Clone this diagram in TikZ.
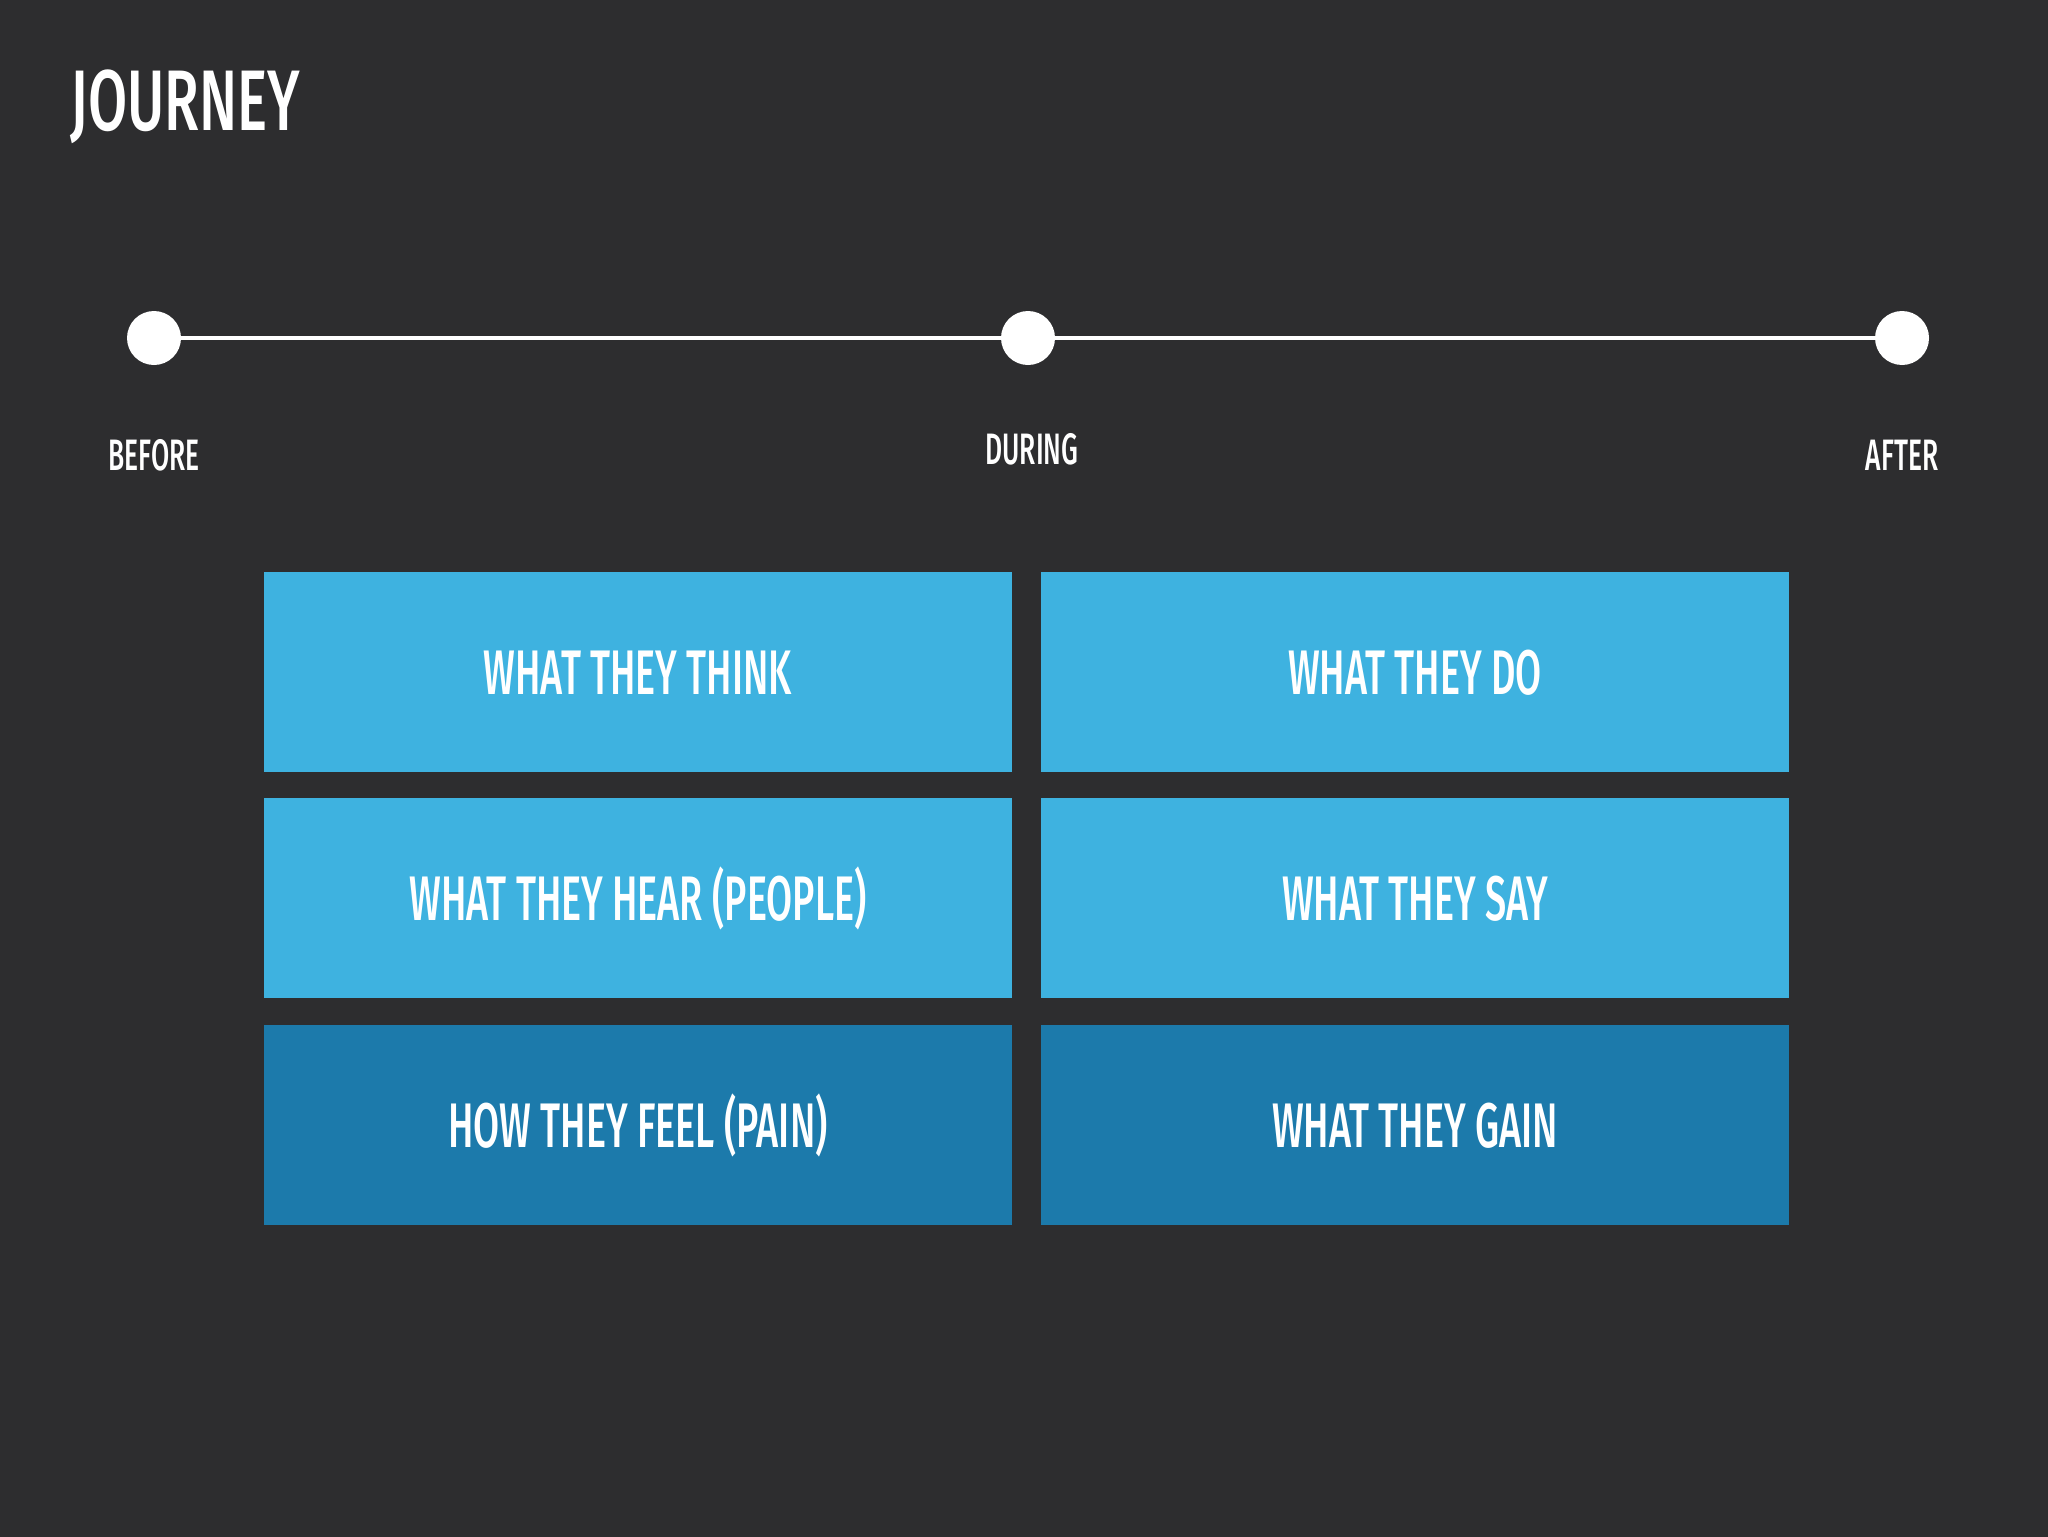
\documentclass[tikz,border=0pt]{standalone}
\usepackage{fontspec}
\setmainfont{Fira Sans}[FakeStretch=0.6, BoldFont={Fira Sans Medium}]
\newfontfamily\titlefont{Fira Sans Medium}[FakeStretch=0.66]
\definecolor{bgc}{HTML}{2D2D2F}
\definecolor{lightb}{HTML}{3EB2E0}
\definecolor{darkb}{HTML}{1C7AAB}
\begin{document}
\begin{tikzpicture}[x=0.5pt,y=-0.5pt,
  dot/.style={circle,fill=white,inner sep=0pt,minimum size=27pt},
  tl/.style={anchor=base,text=white,font=\fontsize{22}{24}\selectfont\bfseries},
  cell/.style={minimum width=374pt,minimum height=100pt,inner sep=0pt,text=white,
     text height=22pt,text depth=0pt,font=\fontsize{31.5}{36}\selectfont\bfseries},
  lc/.style={cell,fill=lightb},
  dc/.style={cell,fill=darkb}]
\useasboundingbox (0,0) rectangle (2048,1536);
\fill[bgc] (-6,-6) rectangle (2054,1542);
\node[anchor=base west,inner sep=0pt,text=white,font=\fontsize{43}{46}\selectfont\titlefont] (title) at (70,131) {JOURNEY};
\node[dot] (d1) at (154,338) {};
\node[dot] (d2) at (1028,338) {};
\node[dot] (d3) at (1902,338) {};
\draw[white,line width=2pt] (d1) -- (d2) -- (d3);
\node[tl] (l1) at (154,470) {BEFORE};
\node[tl] (l2) at (1032,464) {DURING};
\node[tl] (l3) at (1902,470) {AFTER};
\node[lc] (b1) at (638,672) {WHAT THEY THINK};
\node[lc] (b2) at (1415,672) {WHAT THEY DO};
\node[lc] (b3) at (638,898) {WHAT THEY HEAR (PEOPLE)};
\node[lc] (b4) at (1415,898) {WHAT THEY SAY};
\node[dc] (b5) at (638,1125) {HOW THEY FEEL (PAIN)};
\node[dc] (b6) at (1415,1125) {WHAT THEY GAIN};
\end{tikzpicture}
\end{document}
